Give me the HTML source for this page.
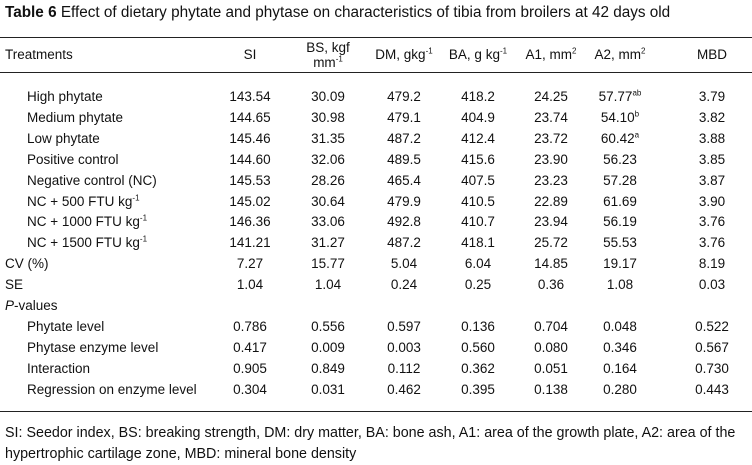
<!DOCTYPE html>
<html><head><meta charset="utf-8"><style>
body{margin:0;width:752px;height:462px;background:#fff;font-family:"Liberation Sans",Arial,sans-serif;color:#111;position:relative;overflow:hidden}
.t{position:absolute;font-size:13.5px;white-space:nowrap;line-height:15px}
.c{transform:translateX(-50%)}
.line{position:absolute;left:0;width:752px;height:1px;background:#222}
sup{font-size:8px;line-height:0}
</style></head><body>
<div class="t" style="left:5px;top:4px;font-size:15.3px;line-height:17px"><b>Table 6</b> Effect of dietary phytate and phytase on characteristics of tibia from broilers at 42 days old</div>
<div class="line" style="top:37px"></div>
<div class="line" style="top:72px"></div>
<div class="line" style="top:411px"></div>
<div id="tbl"></div>
<div class="t" style="left:5px;top:423px;font-size:14.3px;line-height:21px;width:745px;white-space:normal">SI: Seedor index, BS: breaking strength, DM: dry matter, BA: bone ash, A1: area of the growth plate, A2: area of the hypertrophic cartilage zone, MBD: mineral bone density</div>
<script>
const cols=[250,328,404,478,551,620,712];
const headers=['SI','BS, kgf<br>mm<sup>-1</sup>','DM, gkg<sup>-1</sup>','BA, g kg<sup>-1</sup>','A1, mm<sup>2</sup>','A2, mm<sup>2</sup>','MBD'];
const rows=[
['High phytate',27,['143.54','30.09','479.2','418.2','24.25','57.77<sup>ab</sup>','3.79']],
['Medium phytate',27,['144.65','30.98','479.1','404.9','23.74','54.10<sup>b</sup>','3.82']],
['Low phytate',27,['145.46','31.35','487.2','412.4','23.72','60.42<sup>a</sup>','3.88']],
['Positive control',27,['144.60','32.06','489.5','415.6','23.90','56.23','3.85']],
['Negative control (NC)',27,['145.53','28.26','465.4','407.5','23.23','57.28','3.87']],
['NC + 500 FTU kg<sup>-1</sup>',27,['145.02','30.64','479.9','410.5','22.89','61.69','3.90']],
['NC + 1000 FTU kg<sup>-1</sup>',27,['146.36','33.06','492.8','410.7','23.94','56.19','3.76']],
['NC + 1500 FTU kg<sup>-1</sup>',27,['141.21','31.27','487.2','418.1','25.72','55.53','3.76']],
['CV (%)',5,['7.27','15.77','5.04','6.04','14.85','19.17','8.19']],
['SE',5,['1.04','1.04','0.24','0.25','0.36','1.08','0.03']],
['<i>P</i>-values',5,[]],
['Phytate level',27,['0.786','0.556','0.597','0.136','0.704','0.048','0.522']],
['Phytase enzyme level',27,['0.417','0.009','0.003','0.560','0.080','0.346','0.567']],
['Interaction',27,['0.905','0.849','0.112','0.362','0.051','0.164','0.730']],
['Regression on enzyme level',27,['0.304','0.031','0.462','0.395','0.138','0.280','0.443']]
];
const tb=document.getElementById('tbl');
function add(html,x,y,center,name){const d=document.createElement('div');d.className='t'+(center?' c':'');d.style.left=x+'px';d.style.top=y+'px';d.innerHTML=html;


if(center)d.style.textAlign='center';tb.appendChild(d);}
add('Treatments',5,47,false,'header-treatments');
headers.forEach((h,i)=>add(h,cols[i],i==1?40:47,true,'header-col'));
rows.forEach((r,j)=>{const y=89+j*20.9;add(r[0],r[1],y,false,'row-label');r[2].forEach((v,i)=>add(v,cols[i],y,true,'cell'));});
</script>
</body></html>
